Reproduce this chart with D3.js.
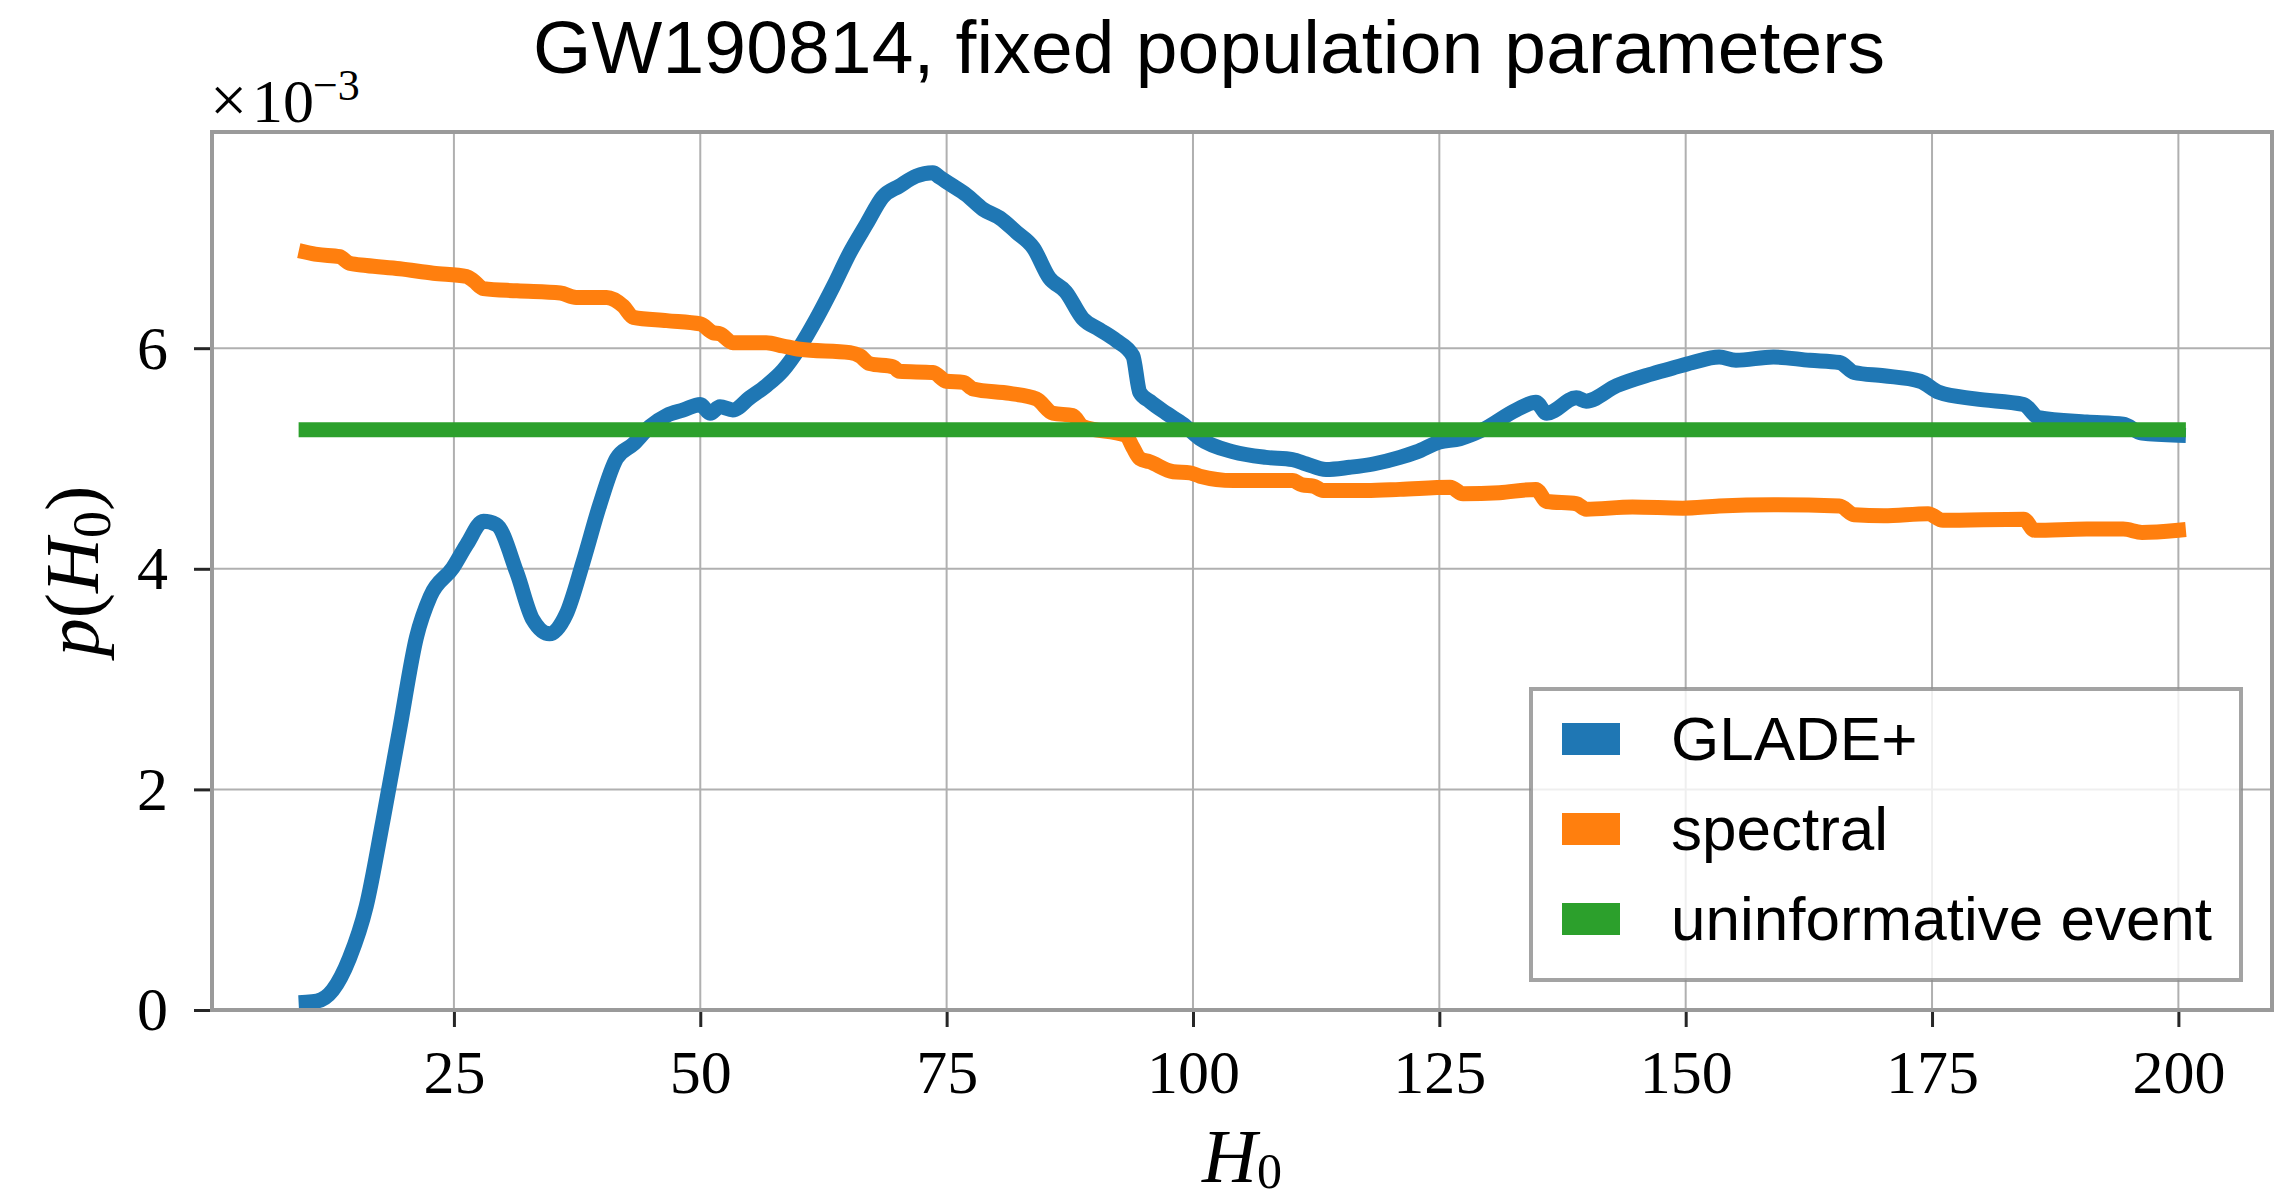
<!DOCTYPE html>
<html>
<head>
<meta charset="utf-8">
<script src="https://d3js.org/d3.v7.min.js"></script>
<style>
  body { margin: 0; background: #fff; }
  svg { display: block; }
</style>
</head>
<body>
<svg id="chart" width="2278" height="1201"></svg>
<script>
'use strict';

// H0 grid and p(H0) values (units of 1e-3)
var gladeH0 = [10, 11.1, 12.7, 14.4, 16.1, 17.8, 19.5, 21.2, 22.6, 24.9,
	26.3, 28.0, 29.3, 31.4, 33.0, 34.7, 36.4, 38.1, 39.8, 41.5,
	43.2, 44.9, 46.6, 48.3, 50.0, 51.0, 52.0, 53.3, 55.0, 56.7,
	58.4, 60.1, 61.8, 63.5, 65.2, 66.9, 68.5, 70.2, 71.9, 73.6,
	74.3, 75.3, 77.0, 78.7, 80.4, 82.1, 83.8, 85.4, 87.1, 88.8,
	90.5, 92.2, 93.9, 94.6, 95.6, 97.3, 99.0, 100.7, 104.1, 107.4,
	110.1, 111.5, 113.5, 115.9, 118.3, 121.0, 122.7, 125.0, 127.1, 129.4,
	132.8, 134.8, 135.9, 138.9, 139.9, 143.0, 146.3, 148.7, 150.7, 153.4,
	155.1, 158.9, 162.6, 165.6, 167.1, 170.1, 173.8, 175.7, 179.4, 184.3,
	185.8, 190.7, 194.4, 196.3, 200];
var gladeP = [0.07, 0.08, 0.18, 0.47, 0.94, 1.72, 2.55, 3.38, 3.75, 4.01,
	4.22, 4.43, 4.40, 3.96, 3.54, 3.41, 3.59, 4.06, 4.58, 5.00,
	5.13, 5.29, 5.39, 5.44, 5.49, 5.41, 5.47, 5.44, 5.55, 5.66,
	5.80, 6.01, 6.27, 6.56, 6.87, 7.13, 7.37, 7.47, 7.56, 7.59,
	7.55, 7.49, 7.39, 7.26, 7.18, 7.05, 6.91, 6.64, 6.51, 6.27,
	6.17, 6.07, 5.93, 5.60, 5.52, 5.41, 5.31, 5.18, 5.06, 5.01,
	4.99, 4.95, 4.90, 4.92, 4.95, 5.01, 5.06, 5.15, 5.18, 5.26,
	5.44, 5.51, 5.41, 5.55, 5.52, 5.66, 5.76, 5.82, 5.87, 5.92,
	5.89, 5.92, 5.89, 5.87, 5.78, 5.75, 5.70, 5.60, 5.54, 5.49,
	5.37, 5.33, 5.31, 5.23, 5.21];

var spectralH0 = [10, 11.1, 13.4, 14.4, 16.1, 19.5, 22.9, 26.3, 27.0, 28.0,
	31.4, 35.8, 37.4, 40.5, 42.2, 43.2, 46.6, 50.0, 51.3, 52.0,
	53.3, 56.7, 58.4, 60.1, 65.2, 66.2, 67.2, 69.6, 70.2, 73.6,
	75.0, 76.7, 77.7, 81.4, 84.1, 85.8, 87.8, 88.8, 93.2, 93.9,
	94.6, 95.6, 98.0, 99.7, 100.7, 104.1, 110.1, 111.1, 112.2, 113.2,
	117.6, 121.0, 126.1, 127.4, 131.1, 134.8, 135.9, 138.9, 139.9, 144.6,
	149.7, 153.4, 158.9, 165.6, 167.1, 170.1, 174.6, 176.1, 184.3, 185.4,
	190.7, 194.4, 196.3, 200];
var spectralP = [6.87, 6.85, 6.83, 6.77, 6.75, 6.72, 6.68, 6.65, 6.61, 6.54,
	6.52, 6.50, 6.46, 6.46, 6.38, 6.28, 6.25, 6.22, 6.14, 6.13,
	6.05, 6.05, 6.02, 5.99, 5.96, 5.93, 5.86, 5.83, 5.79, 5.78,
	5.70, 5.69, 5.63, 5.59, 5.54, 5.41, 5.39, 5.29, 5.21, 5.10,
	5.00, 4.97, 4.88, 4.87, 4.84, 4.80, 4.80, 4.76, 4.75, 4.71,
	4.71, 4.72, 4.74, 4.68, 4.69, 4.72, 4.61, 4.59, 4.54, 4.56,
	4.55, 4.57, 4.58, 4.57, 4.49, 4.48, 4.50, 4.44, 4.45, 4.35,
	4.36, 4.36, 4.33, 4.35];

var uninfH0 = [10, 200];
var uninfP = [5.26, 5.26];

var xTicks = [25, 50, 75, 100, 125, 150, 175, 200];
var yTicks = [0, 2, 4, 6];

var seriesNames = ["GLADE+", "spectral", "uninformative event"];
var seriesColors = ["#1f77b4", "#ff7f0e", "#2ca02c"];

var svg = d3.select("#chart");

var box = { left: 212, right: 2272, top: 132, bottom: 1010 };

var x = d3.scaleLinear().domain([0.5, 209.5]).range([box.left + 0.5, box.right]);
var y = d3.scaleLinear().domain([0, 7.96]).range([box.bottom, box.top]);

var serif = "'Liberation Serif', 'DejaVu Serif', serif";
var sans = "'Liberation Sans', Arial, Helvetica, sans-serif";

// grid
var grid = svg.append("g").attr("class", "grid");
grid.selectAll("line.gx").data(xTicks).enter().append("line")
	.attr("x1", function(d) { return x(d); })
	.attr("x2", function(d) { return x(d); })
	.attr("y1", box.top).attr("y2", box.bottom)
	.attr("stroke", "#b0b0b0").attr("stroke-width", 2);
grid.selectAll("line.gy").data(yTicks).enter().append("line")
	.attr("y1", function(d) { return y(d); })
	.attr("y2", function(d) { return y(d); })
	.attr("x1", box.left).attr("x2", box.right)
	.attr("stroke", "#b0b0b0").attr("stroke-width", 2);

// curves
var line = d3.line()
	.curve(d3.curveMonotoneX)
	.x(function(d) { return x(d[0]); })
	.y(function(d) { return y(d[1]); });

var series = [
	d3.zip(gladeH0, gladeP),
	d3.zip(spectralH0, spectralP),
	d3.zip(uninfH0, uninfP)
];

svg.append("g").selectAll("path").data(series).enter().append("path")
	.attr("d", line)
	.attr("fill", "none")
	.attr("stroke", function(d, i) { return seriesColors[i]; })
	.attr("stroke-width", 15)
	.attr("stroke-linejoin", "round")
	.attr("stroke-linecap", "square");

// axes
var xAxis = svg.append("g")
	.attr("transform", "translate(0," + box.bottom + ")")
	.call(d3.axisBottom(x).tickValues(xTicks).tickSize(17).tickPadding(22)
		.tickFormat(d3.format("d")));
var yAxis = svg.append("g")
	.attr("transform", "translate(" + box.left + ",0)")
	.call(d3.axisLeft(y).tickValues(yTicks).tickSize(18).tickPadding(26)
		.tickFormat(d3.format("d")));

[xAxis, yAxis].forEach(function(a) {
	a.select(".domain").remove();
	a.selectAll(".tick line").attr("stroke", "#262626").attr("stroke-width", 3);
	a.selectAll(".tick text")
		.attr("fill", "#000")
		.style("font-family", serif)
		.style("font-size", "62px");
});

// spines
svg.append("rect")
	.attr("x", box.left).attr("y", box.top)
	.attr("width", box.right - box.left).attr("height", box.bottom - box.top)
	.attr("fill", "none").attr("stroke", "#9a9a9a").attr("stroke-width", 4);

// offset text
var offset = svg.append("g")
	.style("font-family", serif).attr("fill", "#000");
offset.append("text").attr("x", 210).attr("y", 122).style("font-size", "66px").text("\u00d7");
offset.append("text").attr("x", 252).attr("y", 122).style("font-size", "62px").text("10");
offset.append("text").attr("x", 313).attr("y", 100).style("font-size", "44px").text("\u22123");

// title
svg.append("text")
	.attr("x", 533).attr("y", 73)
	.attr("textLength", 1352).attr("lengthAdjust", "spacing")
	.style("font-family", sans).style("font-size", "75px").attr("fill", "#000")
	.text("GW190814, fixed population parameters");

// x label
var xl = svg.append("text")
	.attr("x", (box.left + box.right) / 2).attr("y", 1182)
	.attr("text-anchor", "middle")
	.style("font-family", serif).style("font-size", "76px").attr("fill", "#000");
xl.append("tspan").style("font-style", "italic").text("H");
xl.append("tspan").attr("dy", 6).style("font-size", "50px").text("0");

// y label
var yl = svg.append("text")
	.attr("transform", "translate(98," + (box.top + box.bottom) / 2 + ") rotate(-90)")
	.attr("text-anchor", "middle")
	.style("font-family", serif).style("font-size", "76px").attr("fill", "#000");
yl.append("tspan").style("font-style", "italic").text("p");
yl.append("tspan").text("(");
yl.append("tspan").style("font-style", "italic").text("H");
yl.append("tspan").attr("dy", 12).style("font-size", "54px").text("0");
yl.append("tspan").attr("dy", -12).text(")");

// legend
var legend = svg.append("g");
legend.append("rect")
	.attr("x", 1531).attr("y", 689).attr("width", 710).attr("height", 291)
	.attr("fill", "#fff").attr("fill-opacity", 0.8)
	.attr("stroke", "#8c8c8c").attr("stroke-opacity", 0.8).attr("stroke-width", 4);

var items = legend.selectAll("g.item").data(seriesNames).enter().append("g")
	.attr("transform", function(d, i) { return "translate(0," + (739 + i * 90) + ")"; });
items.append("rect")
	.attr("x", 1562).attr("y", -16).attr("width", 58).attr("height", 32)
	.attr("fill", function(d, i) { return seriesColors[i]; });
items.append("text")
	.attr("x", 1671).attr("y", 21)
	.style("font-family", sans).style("font-size", "62px").attr("fill", "#000")
	.text(function(d) { return d; });
</script>
</body>
</html>
